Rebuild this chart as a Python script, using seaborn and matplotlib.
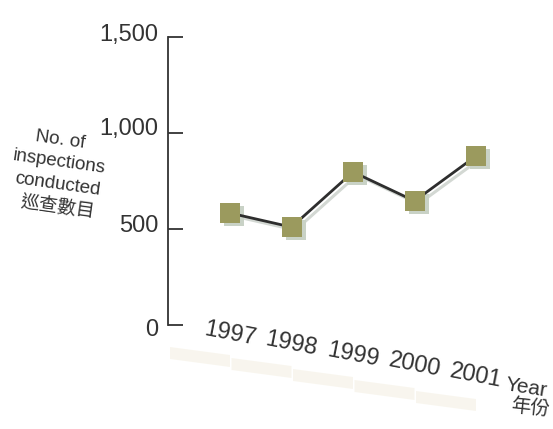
import matplotlib
matplotlib.use("Agg")
import matplotlib.pyplot as plt
import matplotlib.transforms as mtransforms
from matplotlib.patches import Polygon
import seaborn as sns
import pandas as pd

# Data
years = ["1997", "1998", "1999", "2000", "2001"]
inspections = [583, 510, 797, 646, 880]
y_ticks = [0, 500, 1000, 1500]
y_tick_labels = ["0", "500", "1,000", "1,500"]

sns.set_style("white")
plt.rcParams["font.family"] = ["Liberation Sans", "Noto Sans CJK TC", "DejaVu Sans"]

W, H = 553, 429
fig = plt.figure(figsize=(W / 100, H / 100), dpi=100)
fig.patch.set_facecolor("white")

# axes box in pixel terms: spine at x=168, value 0 at y=325, 1500 at y=37
left_px, bottom_px, top_px, right_px = 168, 325, 37, 545
ax = fig.add_axes([left_px / W, (H - bottom_px) / H,
                   (right_px - left_px) / W, (bottom_px - top_px) / H])
ax.set_facecolor("none")

df = pd.DataFrame({"pos": range(len(years)), "year": years, "value": inspections})

x0_px, step_px = 230, 61.5
ax.set_xlim((left_px - x0_px) / step_px, (right_px - x0_px) / step_px)
ax.set_ylim(0, 1500)


def fig_pt(px, py):
    return (px / W, (H - py) / H)


# faint floor shadows beneath the year labels
for i in range(len(years)):
    cx = x0_px + step_px * i - 22
    cy = 352 + 11 * i
    pts = [fig_pt(cx - 38, cy - 5), fig_pt(cx + 22, cy + 3),
           fig_pt(cx + 22, cy + 15), fig_pt(cx - 38, cy + 7)]
    fig.patches.append(Polygon(pts, closed=True, transform=fig.transFigure,
                               facecolor="#f1ebda", edgecolor="none",
                               alpha=0.45, zorder=0))

# shadow of the line and markers, offset right/down
shadow = mtransforms.offset_copy(ax.transData, fig=fig, x=4, y=-3, units="dots")
sns.lineplot(data=df, x="pos", y="value", ax=ax, color="#d3d8d3",
             linewidth=2.2, marker="s", markersize=14.5,
             markerfacecolor="#c9d2c6", markeredgewidth=0,
             transform=shadow, zorder=2)

# main series
sns.lineplot(data=df, x="pos", y="value", ax=ax, color="#2e2e2e",
             linewidth=2.0, marker="s", markersize=14.5,
             markerfacecolor="#9b9a5e", markeredgewidth=0, zorder=3)

# axis styling
for side in ["top", "right", "bottom"]:
    ax.spines[side].set_visible(False)
ax.spines["left"].set_color("#333333")
ax.spines["left"].set_linewidth(1.3)
ax.set_xticks([])
ax.set_yticks(y_ticks)
ax.set_yticklabels(y_tick_labels)
ax.tick_params(axis="y", left=True, direction="in", length=11, width=1.3,
               color="#333333", pad=7, labelsize=17, labelcolor="#333333")
ax.set_xlabel("")
ax.set_ylabel("")

# nudge tick labels upward a little, more for the upper ones
label_shift_px = [-2, 5, 7, 5]
for lab, dy in zip(ax.get_yticklabels(), label_shift_px):
    lab.set_transform(lab.get_transform() +
                      mtransforms.ScaledTranslation(0, dy / 100, fig.dpi_scale_trans))

# year labels stepping down along the slanted floor
for i, yr in enumerate(years):
    ax.annotate(yr, xy=(i, 0), xycoords="data",
                xytext=(0, -(9 + 10.5 * i)), textcoords="offset pixels",
                ha="center", va="center", rotation=-11, rotation_mode="anchor",
                fontsize=17, color="#333333")

fig.text(*fig_pt(526, 388), "Year", ha="center", va="center",
         rotation=-9, rotation_mode="anchor", fontsize=15, color="#333333")
fig.text(*fig_pt(530, 408), "年份", ha="center", va="center",
         rotation=-6, rotation_mode="anchor", fontsize=14, color="#333333")

# vertical axis title
ylab_lines = ["No. of", "inspections", "conducted", "巡查數目"]
for k, line in enumerate(ylab_lines):
    fig.text(*fig_pt(60 - 1 * k, 140 + 22.5 * k), line, ha="center", va="center",
             rotation=-8, rotation_mode="anchor", fontsize=13.5, color="#333333")

fig.savefig("out.png", dpi=100, facecolor="white")
